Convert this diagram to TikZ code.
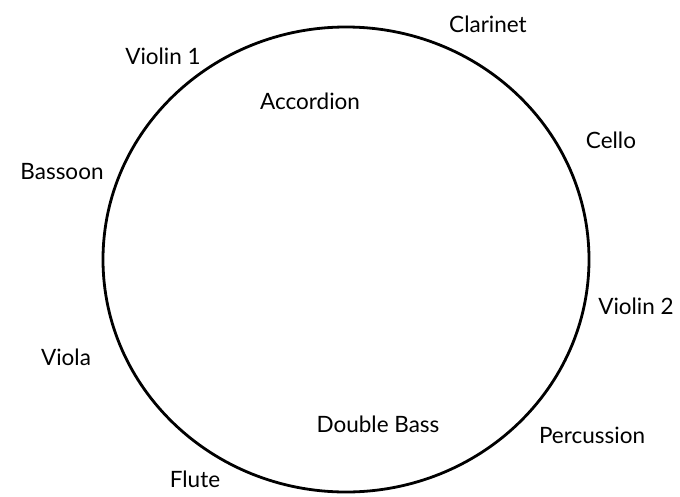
\documentclass[tikz,border=0pt]{standalone}
\usepackage{fontspec}
\setmainfont{Lato}
\usetikzlibrary{positioning}
\begin{document}
\begin{tikzpicture}[
    x=1pt, y=-1pt,
    font=\fontsize{22.5}{26}\selectfont,
    instr/.style={inner sep=0pt, text=black},
    ring/.style={draw=black, line width=2.8pt}
  ]

% ---------------- frame ----------------
\useasboundingbox (0,0) rectangle (680,496);

% ---------------- geometry ----------------
\def\cx{346}      % centre of ring
\def\cy{259.5}
\def\rx{243}      % half-axes of ring
\def\ry{232.5}

% ---------------- ring ----------------
\coordinate (c) at (\cx,\cy);
\draw[ring] (c) ellipse [x radius=\rx, y radius=\ry];

% ---------------- instruments ----------------
\node[instr] (clarinet)   at (488, 24)  {Clarinet};
\node[instr] (violinA)    at (163, 56)  {Violin 1};
\node[instr] (accordion)  at (310, 101) {Accordion};
\node[instr] (cello)      at (611, 140) {Cello};
\node[instr] (bassoon)    at (62, 172)  {Bassoon};
\node[instr] (violinB)    at (636, 306) {Violin 2};
\node[instr] (viola)      at (66, 357)  {Viola};
\node[instr] (doublebass) at (378, 424) {Double Bass};
\node[instr] (percussion) at (592, 435) {Percussion};
\node[instr] (flute)      at (195, 479) {Flute};

\end{tikzpicture}
\end{document}
